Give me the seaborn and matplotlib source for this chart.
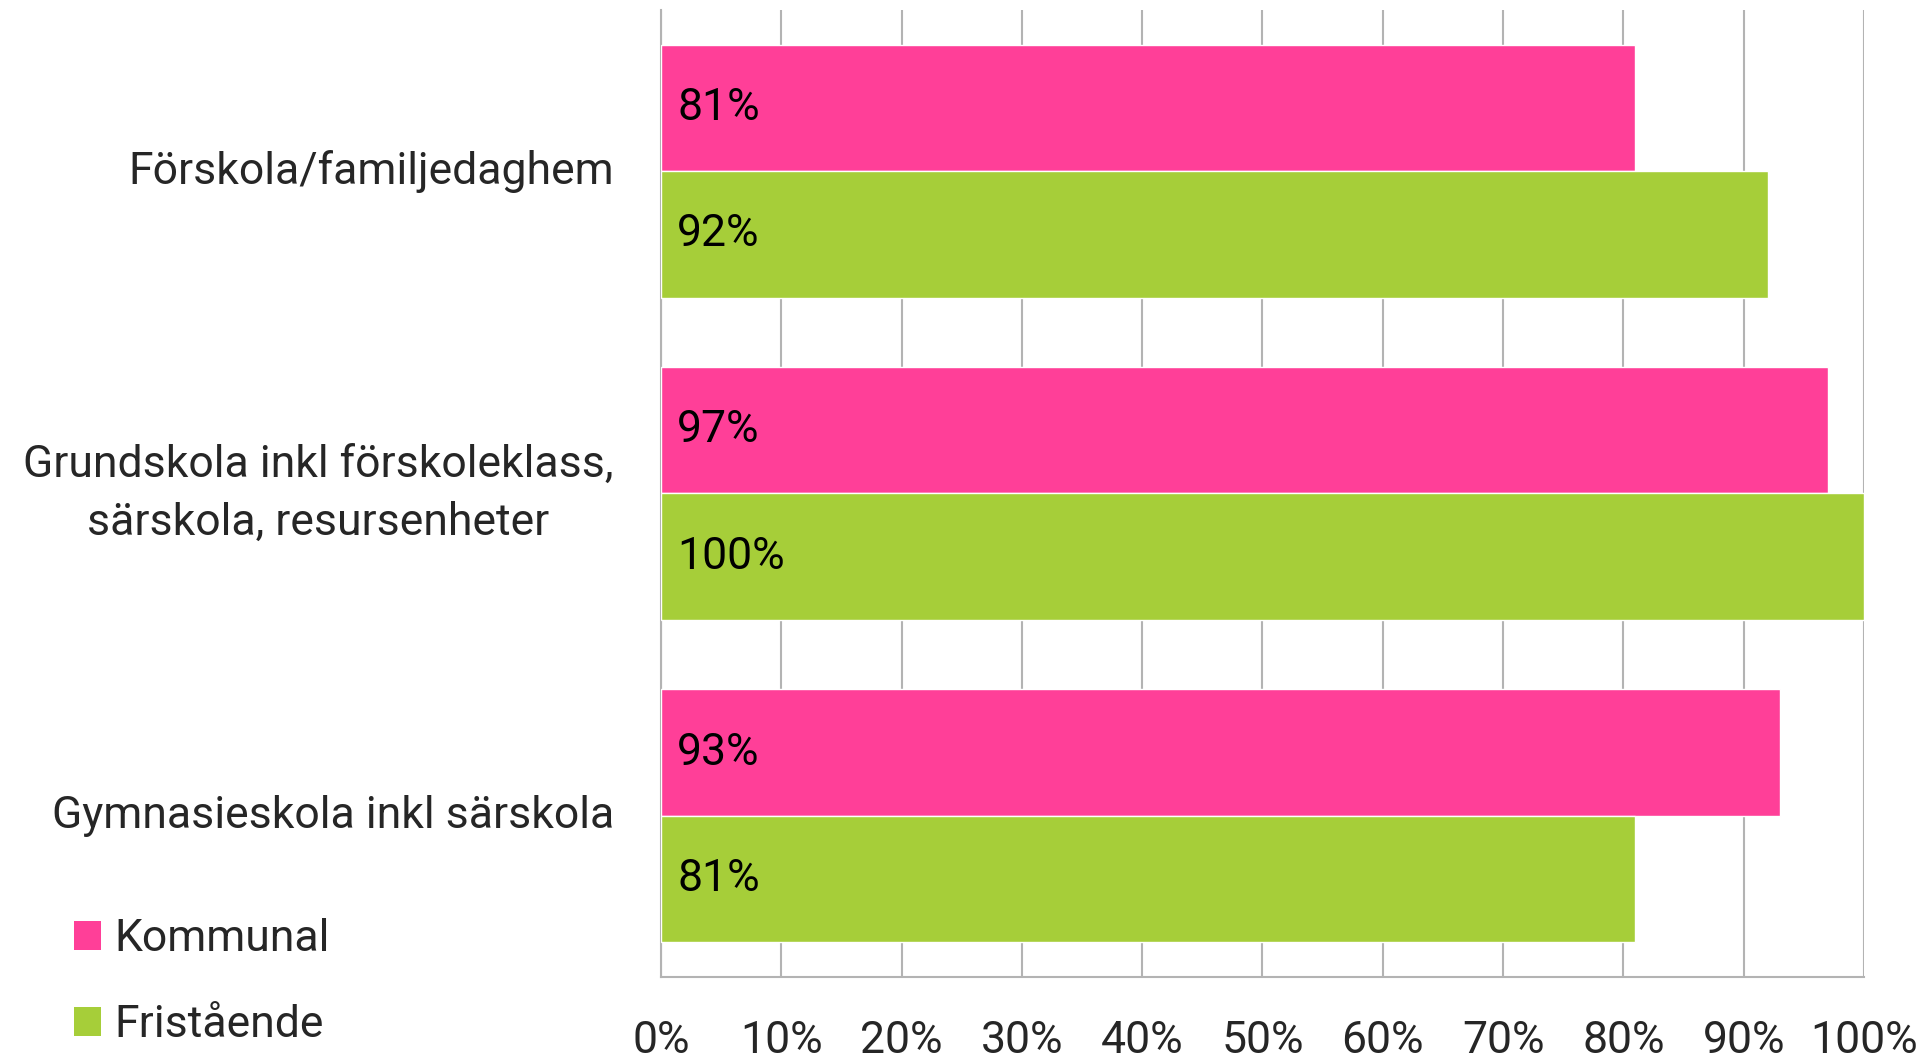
import numpy as np
import pandas as pd
from matplotlib import pyplot as plt
from matplotlib.patches import Patch
import seaborn as sns

categories = ["Förskola/familjedaghem",
              "Grundskola inkl förskoleklass,\nsärskola, resursenheter",
              "Gymnasieskola inkl särskola"]
groups = ["Kommunal", "Fristående"]
kommunal = [81, 97, 93]
fristaende = [92, 100, 81]
colors = ["#FF3F98", "#A6CE39"]
xticks = list(range(0, 101, 10))

df = pd.DataFrame({
    "kategori": categories * 2,
    "grupp": [groups[0]] * 3 + [groups[1]] * 3,
    "andel": kommunal + fristaende,
})

sns.set_style("white")
plt.rcParams["font.family"] = ["Roboto", "DejaVu Sans"]
fs = 32

fig = plt.figure(figsize=(19.26, 10.61), dpi=100)
ax = fig.add_axes([0.3432, 0.0792, 0.6246, 0.9114])

sns.barplot(data=df, y="kategori", x="andel", hue="grupp", order=categories,
            hue_order=groups, palette=colors, width=0.785, saturation=1,
            orient="h", ax=ax, legend=False, zorder=3)

ax.set_xlim(0, 100)
ax.set_ylim(2.5, -0.5)
ax.set_xticks(xticks)
ax.set_xticklabels([f"{t}%" for t in xticks])
ax.set_xlabel("")
ax.set_ylabel("")
ax.grid(axis="x", color="#b3b3b3", linewidth=1.5, zorder=0)
ax.set_axisbelow(True)
for s in ["top", "right"]:
    ax.spines[s].set_visible(False)
for s in ["left", "bottom"]:
    ax.spines[s].set_color("#b3b3b3")
    ax.spines[s].set_linewidth(1.5)
ax.tick_params(axis="both", length=0, labelsize=fs)
ax.tick_params(axis="x", pad=31)
ax.tick_params(axis="y", pad=34)
for lab in ax.get_yticklabels():
    lab.set_multialignment("center")
    lab.set_linespacing(1.48)
    lab.set_verticalalignment("center")

for container, vals in zip(ax.containers, [kommunal, fristaende]):
    for patch, v in zip(container.patches, vals):
        ax.annotate(f"{v}%", xy=(patch.get_x(), patch.get_y() + patch.get_height() / 2),
                    xytext=(16, 0), textcoords="offset pixels",
                    ha="left", va="center", fontsize=fs, color="black", zorder=4)

handles = [Patch(facecolor=c, edgecolor="none") for c in colors]
fig.legend(handles, groups, loc="lower left", bbox_to_anchor=(0.029, -0.003),
           borderaxespad=0, frameon=False, fontsize=fs, handlelength=0.62,
           handleheight=0.62, handletextpad=0.3, labelspacing=1.0)

fig.savefig("out.png", dpi=100)
